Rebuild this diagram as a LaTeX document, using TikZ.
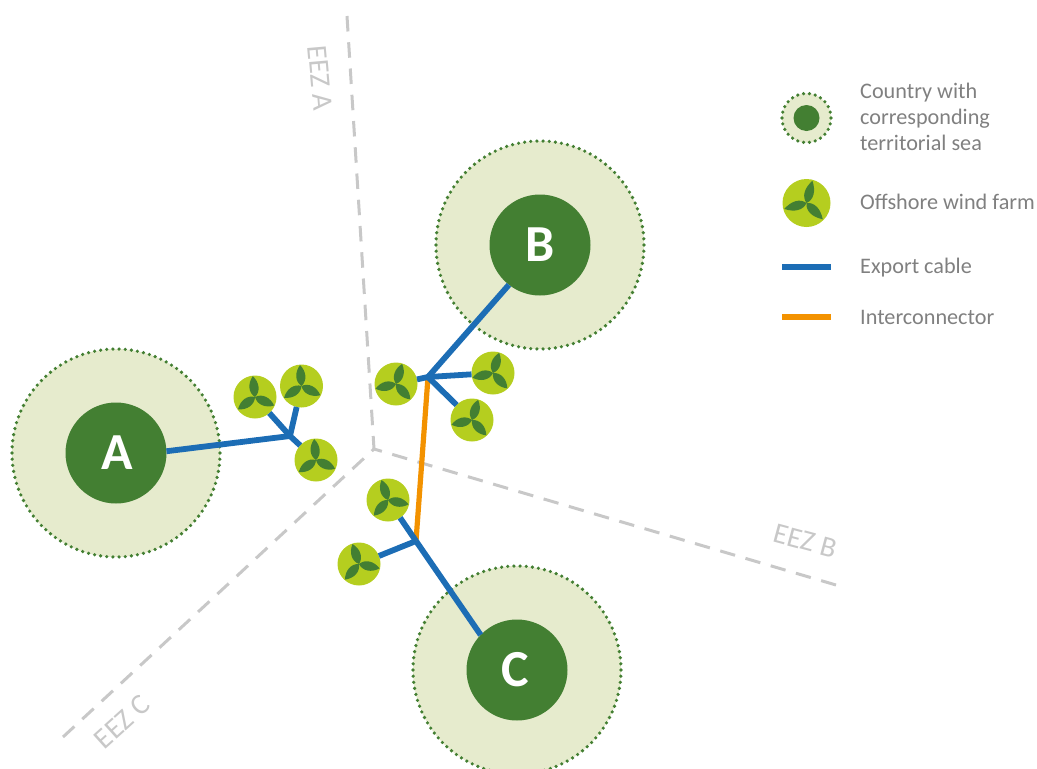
\documentclass[tikz,border=0pt]{standalone}
\usepackage{fontspec}
\setmainfont{Carlito}
\definecolor{seacol}{HTML}{E6EBCD}
\definecolor{corecol}{HTML}{437F32}
\definecolor{farmcol}{HTML}{B5CE1F}
\definecolor{bluecol}{HTML}{1C6DB5}
\definecolor{orangecol}{HTML}{F39200}
\definecolor{greycol}{HTML}{C8C8C8}
\definecolor{textcol}{HTML}{808080}
\tikzset{
  x=1pt,y=1pt,
  sea/.style={circle,fill=seacol,inner sep=0pt,minimum size=#1,outer sep=0pt},
  core/.style={circle,fill=corecol,inner sep=0pt,minimum size=#1,outer sep=0pt,text=white,font=\bfseries\fontsize{52}{52}\selectfont},
  farm/.style={circle,fill=farmcol,inner sep=0pt,minimum size=#1,outer sep=0pt},
  eez/.style={draw=greycol,line width=3pt,dash pattern=on 15.5pt off 10.8pt},
  eezlabel/.style={text=greycol,font=\fontsize{29}{29}\selectfont,inner sep=0pt},
  export/.style={draw=bluecol,line width=5.8pt},
  inter/.style={draw=orangecol,line width=5.2pt},
  legend/.style={text=textcol,font=\fontsize{22.2}{26}\selectfont,anchor=west,align=left,inner sep=0pt},
}
% name, x, y, rotation, blade length, diameter
\newcommand{\windfarm}[6]{%
  \node[farm=#6] (#1) at (#2,#3) {};
  \begin{scope}[shift={(#1.center)}]
    \foreach \a in {0,120,240}{
      \fill[corecol,rotate=#4+\a] (0,0) .. controls (5,6.2) and (14,6) .. (#5,0)
        .. controls (14,-6) and (5,-6.2) .. (0,0) -- cycle;
    }
  \end{scope}
}
% sea node name, radius, number of dots
\newcommand{\dotring}[3]{%
  \foreach \k in {1,...,#3}{
    \fill[corecol] (#1.center) ++({\k/#3*360}:#2) circle[radius=1.8];
  }
}
\begin{document}
\begin{tikzpicture}
\useasboundingbox (0,0) rectangle (1037,-769);
\clip (0,0) rectangle (1037,-769);
% EEZ borders
\coordinate (eezc) at (374,-449);
\coordinate (eeza) at (347,-16);
\coordinate (eezb) at (836,-585);
\coordinate (eezd) at (63,-737);
\draw[eez] (eeza) -- (eezc);
\draw[eez] (eezb) -- (eezc);
\draw[eez] (eezd) -- (eezc);
\node[eezlabel,rotate=-85] (la) at (320,-78) {EEZ A};
\node[eezlabel,rotate=-15] (lb) at (805,-541) {EEZ B};
\node[eezlabel,rotate=42] (lc) at (122,-722) {EEZ C};
% territorial sea
\node[sea=208pt] (seaA) at (116,-453) {};
\node[sea=208pt] (seaB) at (540,-245) {};
\node[sea=208pt] (seaC) at (517,-670) {};
\dotring{seaA}{104}{106}
\dotring{seaB}{104}{106}
\dotring{seaC}{104}{106}
% countries
\node[core=101pt] (A) at (116,-453) {\kern3pt A};
\node[core=101pt] (B) at (540,-245) {B};
\node[core=101pt] (C) at (517,-670) {C\kern4pt};
% wind farms
\windfarm{fa}{255}{-397}{96}{21}{43pt}
\windfarm{fb}{301.5}{-386}{94}{21}{43pt}
\windfarm{fc}{316}{-460}{95}{21}{43pt}
\windfarm{fd}{396}{-384}{73}{21}{43pt}
\windfarm{fe}{493}{-373}{73}{21}{43pt}
\windfarm{ff}{472}{-420}{73}{21}{43pt}
\windfarm{fg}{388}{-500}{108}{21}{43pt}
\windfarm{fh}{359}{-564}{108}{21}{43pt}
% hubs
\coordinate (hubA) at (290,-436);
\coordinate (hubB) at (428,-377);
\coordinate (hubC) at (416,-541);
% interconnector
\draw[inter] (hubB) -- (hubC);
% export cables
\draw[export] (A.2) -- (hubA);
\draw[export] (fa) -- (hubA);
\draw[export] (fb) -- (hubA);
\draw[export] (fc) -- (hubA);
\draw[export] (B.232) -- (hubB);
\draw[export] (fd) -- (hubB);
\draw[export] (fe) -- (hubB);
\draw[export] (ff) -- (hubB);
\draw[export] (C.136) -- (hubC);
\draw[export] (fg) -- (hubC);
\draw[export] (fh) -- (hubC);
% legend
\node[sea=49pt] (lsea) at (806.5,-118) {};
\dotring{lsea}{24.5}{26}
\node[core=26pt] (lcore) at (806.5,-118) {};
\windfarm{lfarm}{806.5}{-203}{75}{23}{48pt}
\coordinate (lb1) at (782,-267);
\coordinate (lb2) at (831,-267);
\coordinate (lo1) at (782,-317);
\coordinate (lo2) at (831,-317);
\draw[export] (lb1) -- (lb2);
\draw[inter] (lo1) -- (lo2);
\node[legend] (t1) at (860,-117) {Country with\\corresponding\\territorial sea};
\node[legend] (t2) at (860,-202) {Offshore wind farm};
\node[legend] (t3) at (860,-268) {Export cable};
\node[legend] (t4) at (860,-317.5) {Interconnector};
\end{tikzpicture}
\end{document}
